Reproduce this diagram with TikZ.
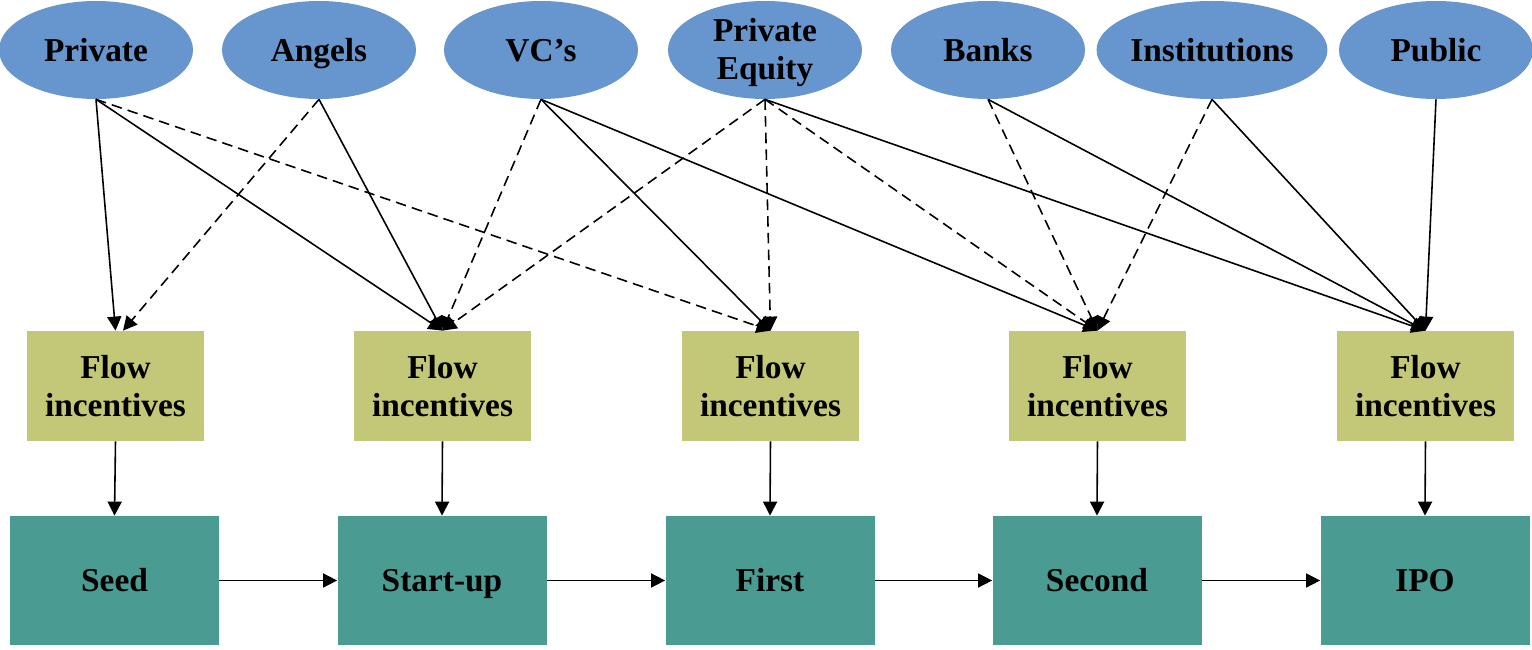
\documentclass[tikz,border=0pt]{standalone}
\usepackage{fontspec}
\setmainfont{Liberation Serif}
\usetikzlibrary{shapes.geometric,arrows.meta}
\definecolor{srcblue}{RGB}{103,150,206}
\definecolor{flowolive}{RGB}{195,199,120}
\definecolor{stageteal}{RGB}{74,155,146}
\begin{document}
\begin{tikzpicture}[draw = black,
  source/.style = {ellipse, fill = srcblue, minimum width = 3.88cm, minimum height = 1.96cm, inner sep = 0pt, align = center},
  flowbox/.style = {rectangle, fill = flowolive, minimum width = 3.54cm, minimum height = 2.2cm, inner sep = 0pt, align = center},
  stagebox/.style = {rectangle, fill = stageteal, minimum width = 4.18cm, minimum height = 2.58cm, inner sep = 0pt, oneline},
  oneline/.style = {execute at begin node = \rule[-4.3pt]{0pt}{21.2pt}},
  link/.style = {line width = 0.9pt, -{Triangle[length = 8pt, width = 8pt]}},
  maybe/.style = {link, dash pattern = on 6pt off 3.5pt},
  font = \fontsize{19}{21.6}\selectfont\bfseries]
\useasboundingbox (0,0) rectangle (30.64,12.98);
% sources of money
\node[source, oneline] (private) at (1.92,11.98) {Private};
\node[source, oneline] (angels) at (6.38,11.98) {Angels};
\node[source, oneline] (vcs) at (10.82,11.98) {VC's};
\node[source, text depth = 1.2pt] (equity) at (15.30,11.98) {Private\\Equity};
\node[source, oneline] (banks) at (19.76,11.98) {Banks};
\node[source, oneline] (inst) at (24.24,11.98) {Institutions};
\node[source, oneline] (public) at (28.72,11.98) {Public};
% flow incentives
\node[flowbox] (flowA) at (2.31,5.26) {Flow\\incentives};
\node[flowbox] (flowB) at (8.85,5.26) {Flow\\incentives};
\node[flowbox] (flowC) at (15.41,5.26) {Flow\\incentives};
\node[flowbox] (flowD) at (21.95,5.26) {Flow\\incentives};
\node[flowbox] (flowE) at (28.51,5.26) {Flow\\incentives};
% stages
\node[stagebox] (seed) at (2.29,1.37) {Seed};
\node[stagebox] (startup) at (8.84,1.37) {Start-up};
\node[stagebox] (first) at (15.40,1.37) {First};
\node[stagebox] (second) at (21.94,1.37) {Second};
\node[stagebox] (ipo) at (28.50,1.37) {IPO};
% money to incentives
\draw[link] (private.south) -- (flowA.north);
\draw[link] (private.south) -- (flowB.north);
\draw[maybe] (private.south) -- (flowC.north);
\draw[maybe] (angels.south) -- ([xshift = 0.15cm]flowA.north);
\draw[link] (angels.south) -- (flowB.north);
\draw[maybe] (vcs.south) -- (flowB.north);
\draw[link] (vcs.south) -- (flowC.north);
\draw[link] (vcs.south) -- (flowD.north);
\draw[maybe] (equity.south) -- (flowB.north);
\draw[maybe] (equity.south) -- (flowC.north);
\draw[maybe] (equity.south) -- (flowD.north);
\draw[link] (equity.south) -- (flowE.north);
\draw[maybe] (banks.south) -- (flowD.north);
\draw[link] (banks.south) -- (flowE.north);
\draw[maybe] (inst.south) -- (flowD.north);
\draw[link] (inst.south) -- (flowE.north);
\draw[link] (public.south) -- (flowE.north);
% incentives to stages
\draw[link] (flowA.south) -- (seed.north);
\draw[link] (flowB.south) -- (startup.north);
\draw[link] (flowC.south) -- (first.north);
\draw[link] (flowD.south) -- (second.north);
\draw[link] (flowE.south) -- (ipo.north);
% stage to stage
\draw[link] (seed.east) -- (startup.west);
\draw[link] (startup.east) -- (first.west);
\draw[link] (first.east) -- (second.west);
\draw[link] (second.east) -- (ipo.west);
\end{tikzpicture}
\end{document}
